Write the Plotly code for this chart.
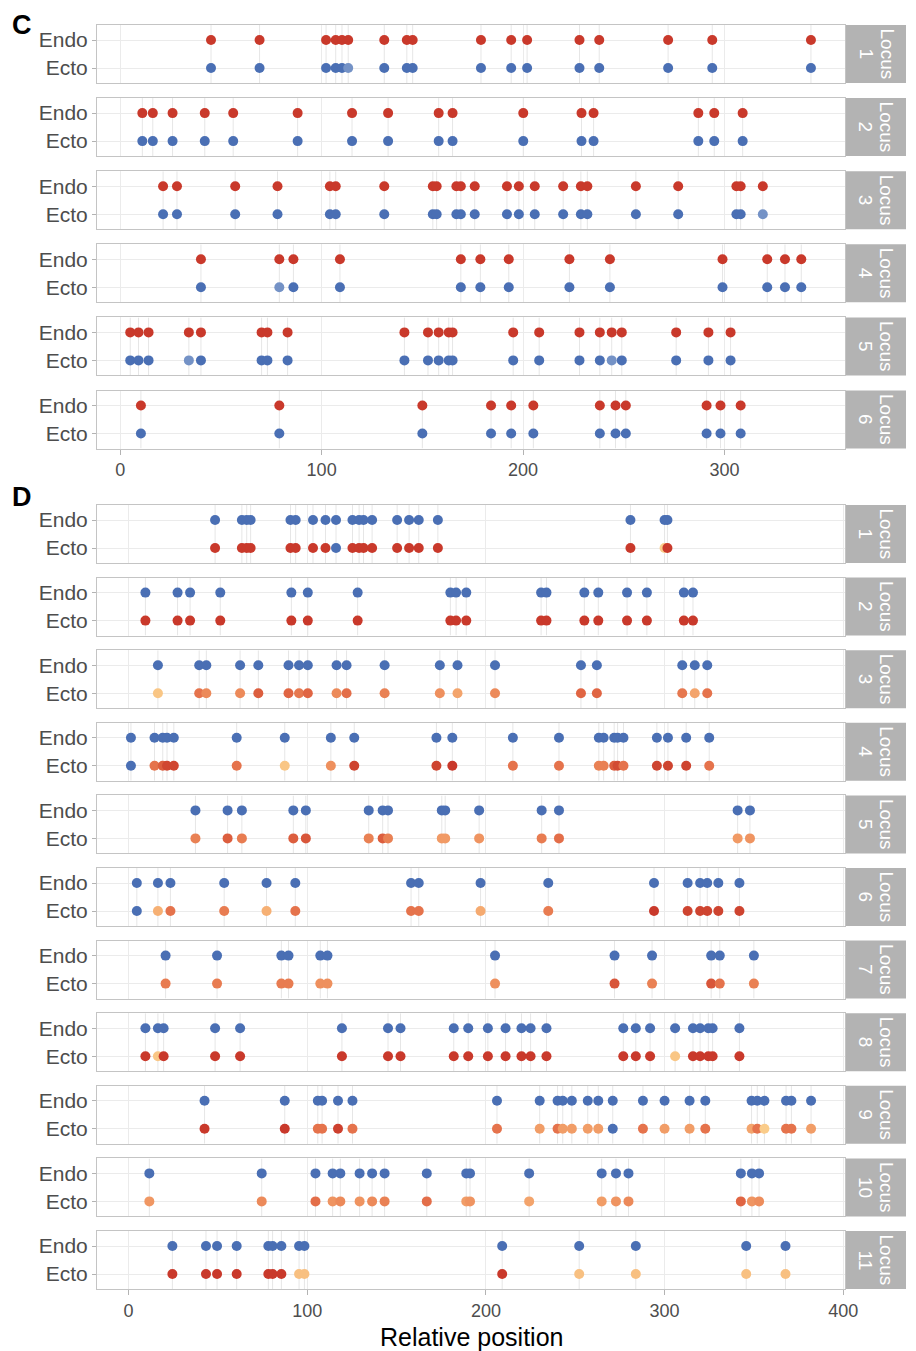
import plotly.graph_objects as go

W, H = 916, 1351

# ---------------- DATA ----------------
loci_C = ["1", "2", "3", "4", "5", "6"]
pos_C = [
    [45.1, 69.2, 102.2, 107.0, 110.1, 113.2, 131.1, 142.3, 145.2, 179.1, 194.1, 202.0, 228.0, 237.8, 272.0, 293.9, 342.9],
    [11.0, 16.2, 26.0, 42.0, 56.1, 88.1, 115.1, 133.0, 158.1, 165.0, 200.1, 229.0, 235.0, 287.0, 294.9, 309.0],
    [21.3, 28.2, 57.1, 78.1, 104.1, 107.0, 131.1, 155.2, 157.1, 166.9, 169.1, 176.0, 192.0, 197.9, 205.8, 219.9, 228.7, 231.9, 256.0, 277.0, 305.9, 308.0, 319.0],
    [40.1, 79.0, 86.0, 109.1, 169.1, 178.8, 192.9, 223.0, 243.1, 299.0, 321.2, 330.0, 338.1],
    [5.0, 9.1, 14.1, 34.1, 40.1, 70.2, 73.1, 83.1, 141.1, 152.8, 158.1, 163.1, 165.0, 195.1, 208.0, 228.0, 238.1, 244.0, 249.0, 276.0, 292.0, 303.0],
    [10.3, 79.0, 150.0, 184.1, 194.1, 205.1, 238.1, 245.9, 251.0, 291.1, 298.0, 308.0],
]
ecto_C = [
    [0, 0, 0, 0, 0, 0.12, 0, 0, 0, 0, 0, 0, 0, 0, 0, 0, 0],
    [0] * 16,
    [0] * 22 + [0.12],
    [0, 0.12] + [0] * 11,
    [0, 0, 0, 0.12] + [0] * 13 + [0.12, 0, 0, 0, 0],
    [0] * 12,
]
endo_C_level = 1.0

loci_D = ["1", "2", "3", "4", "5", "6", "7", "8", "9", "10", "11"]
pos_D = [
    [48.4, 63.4, 66.1, 68.3, 90.6, 93.5, 103.2, 110.2, 116.1, 125.3, 129.0, 131.5, 136.3, 150.3, 157.0, 162.4, 173.1, 280.9, 300.0, 301.6],
    [9.4, 27.4, 34.4, 51.3, 91.1, 100.3, 128.2, 180.1, 183.3, 189.0, 230.9, 233.9, 255.1, 262.9, 279.0, 290.1, 310.8, 315.9],
    [16.4, 39.5, 43.5, 62.4, 72.6, 89.5, 95.4, 100.3, 116.4, 122.0, 143.3, 174.2, 184.1, 205.1, 253.2, 262.1, 309.9, 316.9, 323.9],
    [1.3, 14.5, 19.1, 21.5, 25.3, 60.5, 87.4, 113.2, 126.3, 172.3, 181.2, 215.1, 240.9, 263.2, 265.9, 271.8, 273.7, 277.0, 295.7, 301.9, 312.1, 325.0],
    [37.4, 55.4, 63.4, 92.2, 99.2, 134.4, 142.2, 145.2, 175.3, 177.2, 196.2, 231.2, 240.9, 340.9, 347.8],
    [4.6, 16.4, 23.4, 53.5, 77.2, 93.3, 158.1, 162.4, 197.0, 234.9, 294.1, 312.9, 319.9, 323.9, 330.1, 341.9],
    [20.7, 49.5, 85.5, 89.5, 107.3, 111.3, 205.1, 272.0, 293.0, 326.1, 330.9, 350.0],
    [9.4, 16.4, 19.6, 48.4, 62.4, 119.4, 145.2, 152.2, 182.0, 190.1, 201.1, 211.0, 219.9, 225.0, 233.9, 276.9, 283.9, 291.9, 305.9, 315.9, 319.9, 324.5, 326.9, 341.9],
    [42.5, 87.4, 105.9, 108.3, 117.2, 125.3, 206.2, 230.1, 240.1, 243.0, 248.1, 257.0, 262.9, 271.0, 287.9, 300.0, 314.0, 322.8, 348.7, 351.9, 355.9, 368.0, 371.0, 382.0],
    [11.6, 74.5, 104.6, 114.2, 118.5, 129.3, 136.3, 143.3, 166.9, 189.0, 191.1, 224.2, 264.8, 272.8, 279.8, 342.7, 348.9, 352.9],
    [24.5, 43.3, 49.5, 60.5, 78.2, 80.6, 85.5, 95.4, 98.4, 209.1, 252.2, 283.9, 345.7, 367.7],
]
ecto_D = [
    [1, 1, 1, 1, 1, 1, 1, 1, 0, 1, 1, 1, 1, 1, 1, 1, 1, 1, 0.58, 1],
    [1] * 18,
    [0.6, 0.85, 0.8, 0.8, 0.9, 0.88, 0.84, 0.88, 0.8, 0.86, 0.82, 0.78, 0.72, 0.8, 0.88, 0.88, 0.84, 0.72, 0.85],
    [0, 0.85, 0.9, 0.96, 0.96, 0.85, 0.6, 0.78, 0.97, 0.97, 1.0, 0.85, 0.85, 0.82, 0.82, 0.9, 0.95, 0.85, 0.97, 0.97, 0.97, 0.85],
    [0.82, 0.9, 0.83, 0.9, 0.92, 0.82, 0.9, 0.82, 0.75, 0.75, 0.77, 0.83, 0.86, 0.75, 0.77],
    [0, 0.68, 0.85, 0.83, 0.68, 0.85, 0.85, 0.85, 0.7, 0.83, 1.0, 0.97, 0.97, 0.97, 0.97, 0.97],
    [0.83, 0.83, 0.83, 0.83, 0.78, 0.78, 0.78, 0.92, 0.82, 0.92, 0.85, 0.82],
    [1, 0.6, 1, 1, 1, 1, 1, 1, 1, 1, 1, 1, 1, 1, 1, 1, 1, 1, 0.6, 1, 1, 1, 1, 1],
    [1, 1, 0.85, 0.85, 0.98, 0.85, 0.85, 0.74, 0.85, 0.74, 0.74, 0.74, 0.74, 0, 0.85, 0.74, 0.74, 0.85, 0.72, 0.85, 0.58, 0.85, 0.85, 0.74],
    [0.76, 0.8, 0.86, 0.77, 0.8, 0.77, 0.8, 0.82, 0.86, 0.74, 0.77, 0.72, 0.74, 0.77, 0.8, 0.88, 0.77, 0.79],
    [1, 1, 1, 1, 1, 1, 1, 0.62, 0.62, 1, 0.62, 0.62, 0.62, 0.62],
]
endo_D_level = 0.0

row_labels = ["Ecto", "Endo"]
ticks_C = [0, 100, 200, 300]
ticks_D = [0, 100, 200, 300, 400]

# ---------------- STYLE ----------------
colorscale = [
    [0.0, "#4a6fb4"], [0.15, "#7f9bcb"], [0.55, "#fbd490"], [0.7, "#f5aa70"],
    [0.8, "#ec8a5a"], [0.88, "#e06543"], [0.95, "#d24b33"], [1.0, "#c9392b"],
]
grid = "#EBEBEB"
border = "#C4C4C4"
txt = "#4D4D4D"
FONT = "Liberation Sans, Arial, sans-serif"
OFF = 8  # page body margin offset


def px(x):
    return (x - OFF) / W


def py(y):
    return 1 - (y - OFF) / H


X0, X1 = 97, 845
STRIP_X1 = 906
PANEL_H = 58
YR = [-0.536, 1.536]

panels = [
    dict(loci=loci_C, pos=pos_C, ecto=ecto_C, endo=endo_C_level, top0=25, step=73.1,
         xr=[-11.5, 359.8], ticks=ticks_C),
    dict(loci=loci_D, pos=pos_D, ecto=ecto_D, endo=endo_D_level, top0=505, step=72.6,
         xr=[-17.7, 401.0], ticks=ticks_D),
]

fig = go.Figure()
layout = {}
shapes = []
annotations = []
k = 0
for p in panels:
    n = len(p["loci"])
    for i in range(n):
        k += 1
        xa = "x" if k == 1 else f"x{k}"
        ya = "y" if k == 1 else f"y{k}"
        top = p["top0"] + i * p["step"]
        ydom = [py(top + PANEL_H), py(top)]
        bottom = (i == n - 1)
        pos = p["pos"][i]
        vx, vy = [], []
        for v in pos:
            vx += [v, v, None]
            vy += [YR[0], YR[1], None]
        fig.add_trace(go.Scatter(x=vx, y=vy, mode="lines", line=dict(color="#E6E6E6", width=1),
                                 hoverinfo="skip", showlegend=False, xaxis=xa, yaxis=ya))
        fig.add_trace(go.Scatter(x=pos, y=[1] * len(pos), mode="markers",
                                 marker=dict(size=10, color=[p["endo"]] * len(pos), colorscale=colorscale,
                                             cmin=0, cmax=1, line=dict(width=0)),
                                 showlegend=False, xaxis=xa, yaxis=ya))
        fig.add_trace(go.Scatter(x=pos, y=[0] * len(pos), mode="markers",
                                 marker=dict(size=10, color=p["ecto"][i], colorscale=colorscale,
                                             cmin=0, cmax=1, line=dict(width=0)),
                                 showlegend=False, xaxis=xa, yaxis=ya))
        xkey = "xaxis" if k == 1 else f"xaxis{k}"
        ykey = "yaxis" if k == 1 else f"yaxis{k}"
        layout[xkey] = dict(domain=[px(X0), px(X1)], anchor=ya, range=p["xr"], tickvals=p["ticks"],
                            showticklabels=bottom, ticks="outside" if bottom else "", ticklen=5,
                            tickcolor="#B3B3B3", tickfont=dict(size=18, color=txt, family=FONT),
                            showgrid=True, gridcolor=grid, zeroline=False, automargin=False,
                            showline=True, mirror=True, linecolor=border, linewidth=1)
        layout[ykey] = dict(domain=ydom, anchor=xa, range=YR, tickvals=[0, 1], ticktext=row_labels,
                            ticks="outside", ticklen=4, tickcolor="#B3B3B3",
                            tickfont=dict(size=21, color=txt, family=FONT),
                            showgrid=True, gridcolor=grid, zeroline=False, automargin=False,
                            showline=True, mirror=True, linecolor=border, linewidth=1)
        shapes.append(dict(type="rect", xref="paper", yref="paper", x0=px(X1), x1=px(STRIP_X1),
                           y0=ydom[0], y1=ydom[1], fillcolor="#B3B3B3", line=dict(width=0),
                           layer="below"))
        cx = (X1 + STRIP_X1) / 2
        cy = (ydom[0] + ydom[1]) / 2
        annotations.append(dict(xref="paper", yref="paper", x=px(cx + 11), y=cy,
                                xanchor="center", yanchor="middle", text="Locus",
                                textangle=90, showarrow=False,
                                font=dict(size=19, color="white", family=FONT)))
        annotations.append(dict(xref="paper", yref="paper", x=px(cx - 10), y=cy,
                                xanchor="center", yanchor="middle", text=p["loci"][i],
                                textangle=90, showarrow=False,
                                font=dict(size=19, color="white", family=FONT)))

annotations.append(dict(xref="paper", yref="paper", x=px(22), y=py(8), xanchor="center",
                        yanchor="top", text="<b>C</b>",
                        showarrow=False, font=dict(size=27, color="black", family=FONT)))
annotations.append(dict(xref="paper", yref="paper", x=px(22), y=py(497), xanchor="center",
                        yanchor="middle", text="<b>D</b>",
                        showarrow=False, font=dict(size=27, color="black", family=FONT)))
annotations.append(dict(xref="paper", yref="paper", x=px(471), y=py(1337), xanchor="center",
                        yanchor="middle", text="Relative position",
                        showarrow=False, font=dict(size=25, color="black", family=FONT)))

fig.update_layout(width=W, height=H, autosize=False, margin=dict(l=0, r=0, t=0, b=0, autoexpand=False),
                  plot_bgcolor="white", paper_bgcolor="white", shapes=shapes, annotations=annotations,
                  font=dict(family=FONT), **layout)
fig.write_html("out.html")
